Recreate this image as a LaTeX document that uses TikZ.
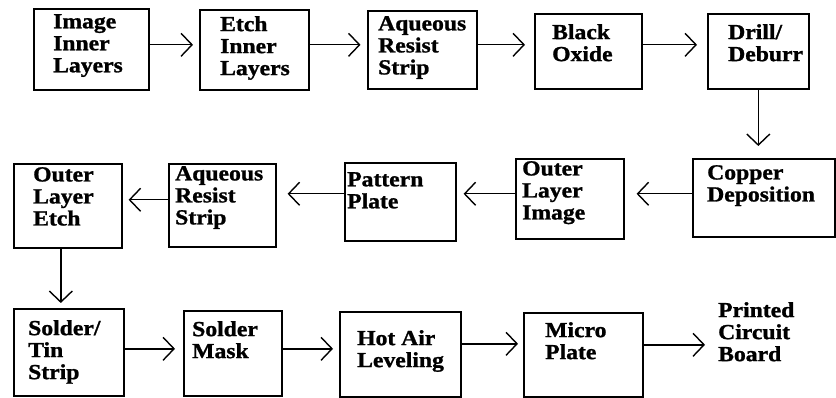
\documentclass[tikz,border=0pt]{standalone}
\usepackage{fontspec}
\setmainfont{Liberation Serif}[FakeStretch=1.1, BoldFeatures={FakeBold=1.2}]
\usetikzlibrary{arrows.meta,calc}
\tikzset{
  box/.style={draw, line width=1.6pt, inner sep=0pt, anchor=north west},
  txt/.style={inner sep=0pt, anchor=north west, align=left,
    font=\fontsize{21.5}{22}\selectfont\bfseries},
  arr/.style={line width=1.4pt, -{Straight Barb[length=11pt,width=23pt,line width=1.4pt]}},
}
\begin{document}
\begin{tikzpicture}[x=1pt,y=-1pt]
\useasboundingbox (0,0) rectangle (836,398);
% boxes
\node[box, minimum width=115pt, minimum height=81pt] (b1) at (33,8) {};
\node[box, minimum width=109pt, minimum height=80pt] (b2) at (199,9) {};
\node[box, minimum width=109pt, minimum height=78pt] (b3) at (367,10) {};
\node[box, minimum width=107pt, minimum height=75pt] (b4) at (534,13) {};
\node[box, minimum width=101pt, minimum height=75pt] (b5) at (707,13) {};
\node[box, minimum width=142pt, minimum height=78pt] (b6) at (692,158) {};
\node[box, minimum width=108pt, minimum height=80pt] (b7) at (515,158) {};
\node[box, minimum width=111pt, minimum height=78pt] (b8) at (344,162) {};
\node[box, minimum width=107pt, minimum height=83pt] (b9) at (168,163) {};
\node[box, minimum width=108pt, minimum height=84pt] (b10) at (13,163) {};
\node[box, minimum width=110pt, minimum height=87pt] (b11) at (13,308) {};
\node[box, minimum width=98pt, minimum height=85pt] (b12) at (183,310) {};
\node[box, minimum width=121pt, minimum height=85pt] (b13) at (339,311) {};
\node[box, minimum width=119pt, minimum height=84pt] (b14) at (523,312) {};
% texts
\node[txt] (t1) at ($(b1.north west)+(20,6)$) {Image\\Inner\\Layers};
\node[txt] (t2) at ($(b2.north west)+(21,7)$) {Etch\\Inner\\Layers};
\node[txt] (t3) at ($(b3.north west)+(11,6)$) {Aqueous\\Resist\\Strip};
\node[txt] (t4) at ($(b4.north west)+(18,11)$) {Black\\Oxide};
\node[txt] (t5) at ($(b5.north west)+(21,11)$) {Drill/\\Deburr};
\node[txt] (t6) at ($(b6.north west)+(15,7)$) {Copper\\Deposition};
\node[txt] (t7) at ($(b7.north west)+(7,3)$) {Outer\\Layer\\Image};
\node[txt] (t8) at ($(b8.north west)+(3,10)$) {Pattern\\Plate};
\node[txt] (t9) at ($(b9.north west)+(7,3)$) {Aqueous\\Resist\\Strip};
\node[txt] (t10) at ($(b10.north west)+(20,4)$) {Outer\\Layer\\Etch};
\node[txt] (t11) at ($(b11.north west)+(15,12)$) {Solder/\\Tin\\Strip};
\node[txt] (t12) at ($(b12.north west)+(9,11)$) {Solder\\Mask};
\node[txt] (t13) at ($(b13.north west)+(18,19)$) {Hot Air\\Leveling};
\node[txt] (t14) at ($(b14.north west)+(22,10)$) {Micro\\Plate};
\node[txt] (t15) at (718,302) {Printed\\Circuit\\Board};
% connectors
\coordinate (a1) at ([yshift=4.5pt]b1.east);
\draw[arr, shorten >=6pt] (a1) -- (a1 -| b2.west);
\coordinate (a2) at ([yshift=5pt]b2.east);
\draw[arr, shorten >=6.5pt] (a2) -- (a2 -| b3.west);
\coordinate (a3) at ([yshift=5pt]b3.east);
\draw[arr, shorten >=9pt] (a3) -- (a3 -| b4.west);
\coordinate (a4) at ([yshift=6.5pt]b4.east);
\draw[arr, shorten >=10pt] (a4) -- (a4 -| b5.west);
\coordinate (a5) at (b5.south);
\draw[arr, shorten >=12pt] (a5) -- (a5 |- b6.north);
\coordinate (a6) at ([yshift=4pt]b6.west);
\draw[arr, shorten >=12pt] (a6) -- (a6 -| b7.east);
\coordinate (a7) at ([yshift=5pt]b7.west);
\draw[arr, shorten >=7pt] (a7) -- (a7 -| b8.east);
\coordinate (a8) at ([yshift=8pt]b8.west);
\draw[arr, shorten >=11pt] (a8) -- (a8 -| b9.east);
\coordinate (a9) at ([yshift=5.5pt]b9.west);
\draw[arr, shorten >=6pt] (a9) -- (a9 -| b10.east);
\coordinate (a10) at ([xshift=-7pt]b10.south);
\draw[arr, shorten >=5pt] (a10) -- (a10 |- b11.north);
\coordinate (a11) at ([yshift=3.5pt]b11.east);
\draw[arr, shorten >=8pt] (a11) -- (a11 -| b12.west);
\coordinate (a12) at ([yshift=4.5pt]b12.east);
\draw[arr, shorten >=6pt] (a12) -- (a12 -| b13.west);
\coordinate (a13) at ([yshift=10.5pt]b13.east);
\draw[arr, shorten >=5pt] (a13) -- (a13 -| b14.west);
\coordinate (a14) at ([yshift=10pt]b14.east);
\draw[arr, shorten >=13pt] (a14) -- (a14 -| t15.west);
\end{tikzpicture}
\end{document}
